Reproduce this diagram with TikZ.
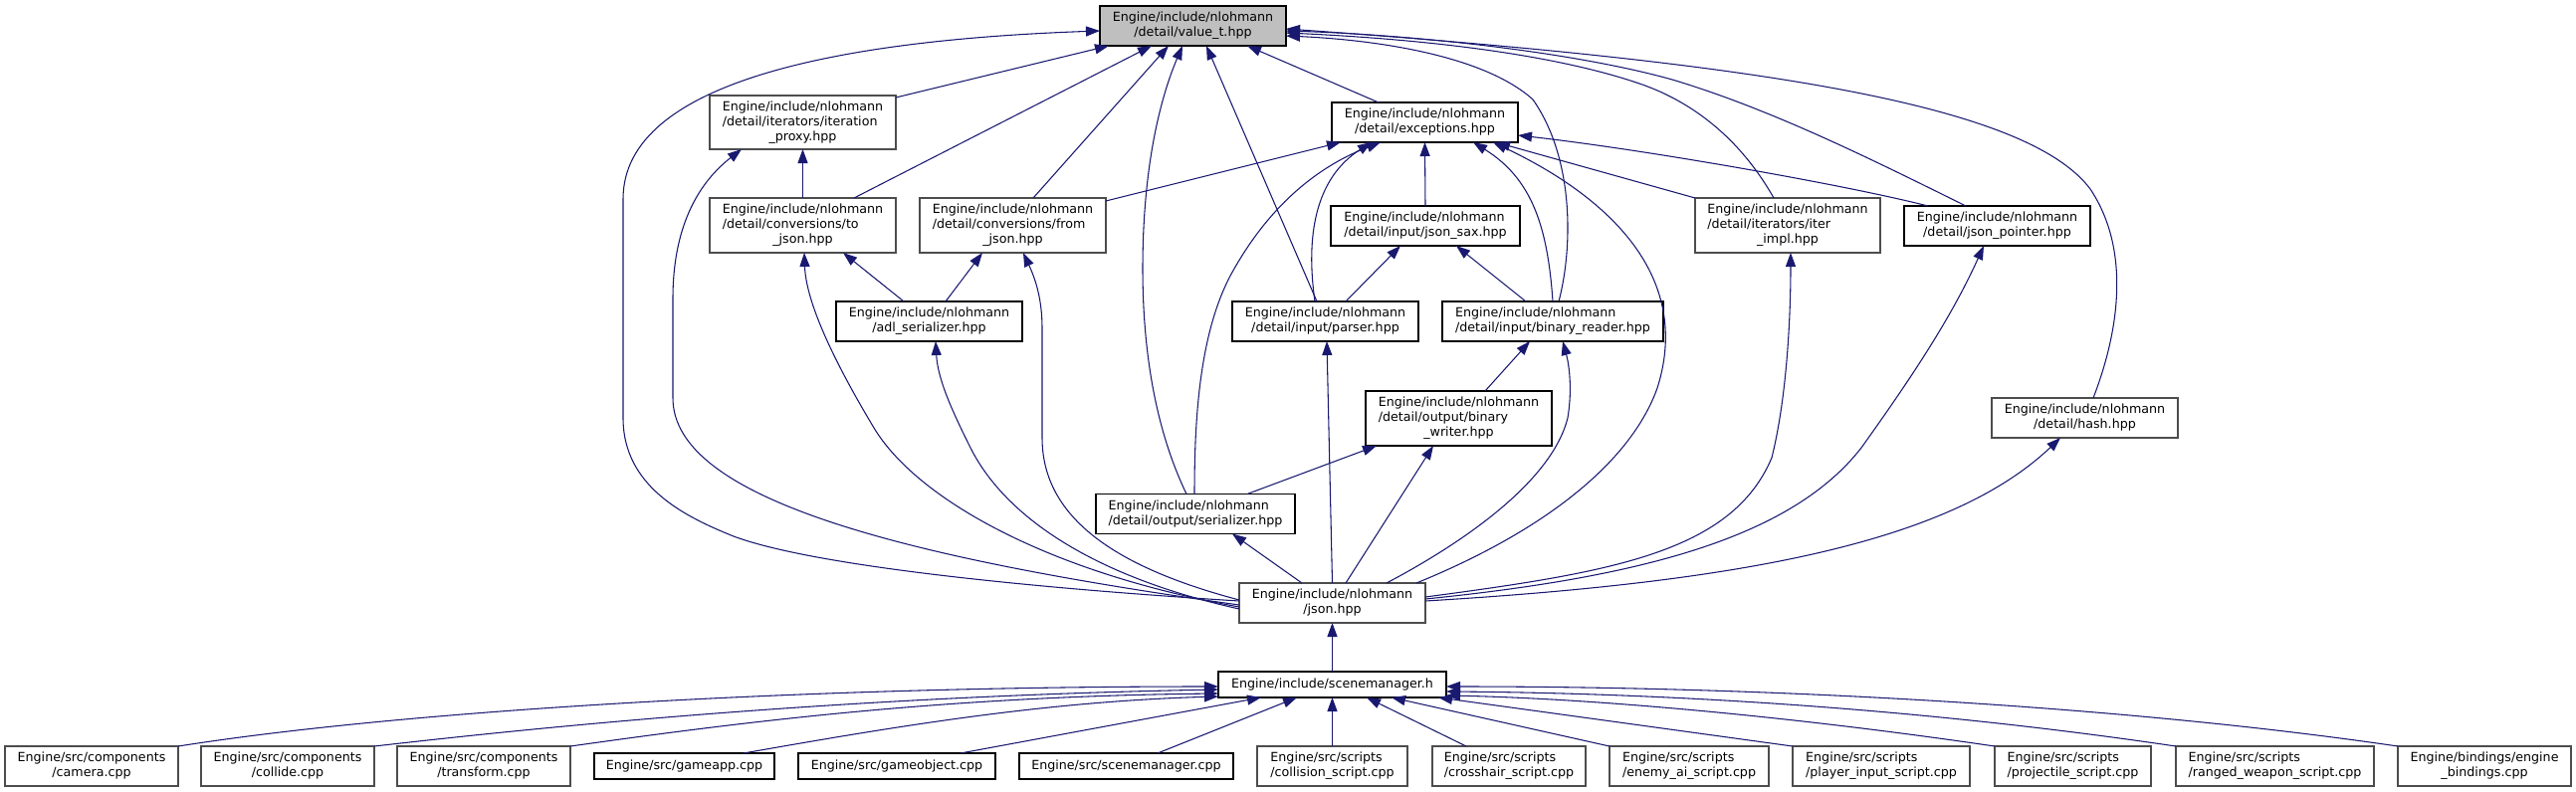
\documentclass[tikz,border=0pt]{standalone}
\usepackage{fontspec}
\setmainfont{DejaVu Sans}
\usetikzlibrary{arrows.meta,calc}
\definecolor{edgeblue}{HTML}{191970}
\definecolor{boxgray}{HTML}{4D4D4D}
\definecolor{rootgray}{HTML}{BFBFBF}
\newcommand{\ml}[2]{\begin{tabular}{@{}l@{}}#1\\\multicolumn{1}{@{}c@{}}{#2}\end{tabular}}
\tikzset{
  nb/.style 2 args={draw=black, line width=0.8pt, fill=white, minimum width=#1*0.75pt, minimum height=#2*0.75pt, inner sep=0pt, outer sep=0pt, font=\fontsize{9.5}{11.25}\selectfont},
  ng/.style 2 args={nb={#1}{#2}, draw=boxgray, line width=1pt},
  lnk/.style={draw=edgeblue, line width=0.8pt, -{Triangle[length=10.5pt,width=7.5pt]}}
}
\begin{document}
\begin{tikzpicture}[x=0.75pt,y=-0.75pt]
\useasboundingbox (0,0) rectangle (2588,796);
% nodes
\node[nb={187}{40}, fill=rootgray] (vt) at (1198.5,26) {\ml{Engine/include/nlohmann}{/detail/value\_t.hpp}};
\node[ng={187}{54}] (ip) at (806.5,123) {\ml{Engine/include/nlohmann\\/detail/iterators/iteration}{\_proxy.hpp}};
\node[ng={187}{55}] (tj) at (806.5,226.5) {\ml{Engine/include/nlohmann\\/detail/conversions/to}{\_json.hpp}};
\node[ng={187}{55}] (fj) at (1017.5,226.5) {\ml{Engine/include/nlohmann\\/detail/conversions/from}{\_json.hpp}};
\node[nb={187}{40}] (adl) at (933.5,323) {\ml{Engine/include/nlohmann}{/adl\_serializer.hpp}};
\node[nb={187}{40}] (exc) at (1431.5,123) {\ml{Engine/include/nlohmann}{/detail/exceptions.hpp}};
\node[nb={190}{40}] (sax) at (1432,227) {\ml{Engine/include/nlohmann}{/detail/input/json\_sax.hpp}};
\node[nb={187}{40}] (par) at (1331.5,323) {\ml{Engine/include/nlohmann}{/detail/input/parser.hpp}};
\node[nb={222}{40}] (br) at (1560,323) {\ml{Engine/include/nlohmann}{/detail/input/binary\_reader.hpp}};
\node[ng={186}{55}] (ii) at (1796,226.5) {\ml{Engine/include/nlohmann\\/detail/iterators/iter}{\_impl.hpp}};
\node[nb={187}{40}] (jp) at (2006.5,227) {\ml{Engine/include/nlohmann}{/detail/json\_pointer.hpp}};
\node[nb={187}{55}] (bw) at (1465.5,420.5) {\ml{Engine/include/nlohmann\\/detail/output/binary}{\_writer.hpp}};
\node[nb={200}{40}] (ser) at (1201,516.5) {\ml{Engine/include/nlohmann}{/detail/output/serializer.hpp}};
\node[ng={187}{40}] (hash) at (2094.5,420) {\ml{Engine/include/nlohmann}{/detail/hash.hpp}};
\node[ng={187}{40}] (json) at (1338.5,606) {\ml{Engine/include/nlohmann}{/json.hpp}};
\node[nb={229}{26}] (sm) at (1338.5,688) {Engine/include/scenemanager.h};
\node[ng={174}{40}] (cam) at (92,770) {\ml{Engine/src/components}{/camera.cpp}};
\node[ng={174}{40}] (col) at (289,770) {\ml{Engine/src/components}{/collide.cpp}};
\node[ng={174}{40}] (tr) at (486,770) {\ml{Engine/src/components}{/transform.cpp}};
\node[nb={181}{26}] (ga) at (687.5,770) {Engine/src/gameapp.cpp};
\node[nb={198}{26}] (go) at (901,770) {Engine/src/gameobject.cpp};
\node[nb={215}{26}] (smc) at (1131.5,770) {Engine/src/scenemanager.cpp};
\node[ng={151}{40}] (cs) at (1338.5,770) {\ml{Engine/src/scripts}{/collision\_script.cpp}};
\node[ng={154}{40}] (ch) at (1516,770) {\ml{Engine/src/scripts}{/crosshair\_script.cpp}};
\node[ng={160}{40}] (ea) at (1697,770) {\ml{Engine/src/scripts}{/enemy\_ai\_script.cpp}};
\node[ng={178}{40}] (pi) at (1890,770) {\ml{Engine/src/scripts}{/player\_input\_script.cpp}};
\node[ng={157}{40}] (pr) at (2082.5,770) {\ml{Engine/src/scripts}{/projectile\_script.cpp}};
\node[ng={199}{40}] (rw) at (2285.5,770) {\ml{Engine/src/scripts}{/ranged\_weapon\_script.cpp}};
\node[ng={174}{40}] (eb) at (2496,770) {\ml{Engine/bindings/engine}{\_bindings.cpp}};
% json.hpp includes
\draw[lnk] ($(json)+(-93.5,-2)$) .. controls (1050,592) and (820,570) .. (737,539) .. controls (690,520) and (626,490) .. (626,420) -- (626,200) .. controls (626,80) and (850,40) .. ($(vt)+(-93.5,5)$);
\draw[lnk] ($(json)+(-93.5,2)$) .. controls (900,560) and (676,500) .. (676,400) -- (676,300) .. controls (676,230) and (700,185) .. ($(ip)+(-61.5,27)$);
\draw[lnk] ($(json)+(-93.5,4)$) .. controls (1050,575) and (920,500) .. (878,430) .. controls (848,380) and (810,310) .. ($(tj)+(1.5,27.5)$);
\draw[lnk] ($(json)+(-93.5,6)$) .. controls (1100,580) and (1010,520) .. (975,450) .. controls (955,410) and (942,380) .. ($(adl)+(6.5,20)$);
\draw[lnk] ($(json)+(-93.5,-3)$) .. controls (1120,570) and (1047,520) .. (1047,440) -- (1047,330) .. controls (1047,300) and (1040,280) .. ($(fj)+(10.5,27.5)$);
\draw[lnk] (json.north) -- ($(par.south)+(1.5,0)$);
\draw[lnk] ($(json)+(-30.5,-20)$) -- ($(ser)+(37,20)$);
\draw[lnk] ($(json)+(13.5,-20)$) -- ($(bw)+(-25.5,27.5)$);
\draw[lnk] ($(json)+(54.5,-20)$) .. controls (1480,540) and (1560,480) .. (1575,420) .. controls (1580,390) and (1576,365) .. ($(br)+(10,20)$);
\draw[lnk] ($(json)+(84.5,-20)$) .. controls (1560,530) and (1640,460) .. (1665,390) .. controls (1700,280) and (1620,200) .. ($(exc)+(68.5,20)$);
\draw[lnk] ($(json)+(93.5,-6)$) .. controls (1620,575) and (1740,555) .. (1780,460) .. controls (1795,400) and (1799,320) .. ($(ii)+(3,27.5)$);
\draw[lnk] ($(json)+(93.5,-4)$) .. controls (1650,580) and (1800,540) .. (1870,450) .. controls (1920,380) and (1960,320) .. ($(jp)+(-13.5,20)$);
\draw[lnk] ($(json)+(93.5,-2)$) .. controls (1750,585) and (1960,545) .. ($(hash)+(-24.5,20)$);
\draw[lnk] (sm.north) -- (json.south);
% value_t
\draw[lnk] ($(ip)+(93.5,-25)$) -- ($(vt)+(-84.5,20)$);
\draw[lnk] ($(tj)+(51.5,-27.5)$) -- ($(vt)+(-41.5,20)$);
\draw[lnk] ($(fj)+(20.5,-27.5)$) -- ($(vt)+(-24.5,20)$);
\draw[lnk] ($(ser)+(-9,-20)$) .. controls (1160,430) and (1148,350) .. (1148,270) .. controls (1148,170) and (1165,100) .. ($(vt)+(-10.5,20)$);
\draw[lnk] ($(par)+(-8.5,-20)$) -- ($(vt)+(13.5,20)$);
\draw[lnk] ($(exc)+(-46.5,-20)$) -- ($(vt)+(54.5,20)$);
\draw[lnk] ($(br)+(6,-20)$) .. controls (1580,250) and (1582,160) .. (1540,100) .. controls (1490,55) and (1380,40) .. ($(vt)+(93.5,10)$);
\draw[lnk] ($(ii)+(-14,-27.5)$) .. controls (1760,160) and (1720,110) .. (1650,85) .. controls (1550,50) and (1400,38) .. ($(vt)+(93.5,7)$);
\draw[lnk] ($(jp)+(-31.5,-20)$) .. controls (1880,160) and (1780,110) .. (1680,80) .. controls (1580,52) and (1420,35) .. ($(vt)+(93.5,5)$);
\draw[lnk] ($(hash)+(8.5,-20)$) .. controls (2130,330) and (2140,250) .. (2100,190) .. controls (2040,110) and (1800,65) .. ($(vt)+(93.5,3)$);
% exceptions
\draw[lnk] ($(fj)+(93.5,-24.5)$) -- ($(exc)+(-84.5,20)$);
\draw[lnk] ($(par)+(-10.5,-20)$) .. controls (1312,240) and (1320,180) .. ($(exc)+(-53.5,20)$);
\draw[lnk] ($(ser)+(-1,-20)$) .. controls (1200,420) and (1205,330) .. (1240,270) .. controls (1280,200) and (1330,165) .. ($(exc)+(-44.5,20)$);
\draw[lnk] (sax.north) -- (exc.south);
\draw[lnk] ($(br)+(0,-20)$) .. controls (1555,230) and (1540,180) .. ($(exc)+(48.5,20)$);
\draw[lnk] ($(ii)+(-93,-27.5)$) -- ($(exc)+(71.5,20)$);
\draw[lnk] ($(jp)+(-69.5,-20)$) .. controls (1850,185) and (1650,150) .. ($(exc)+(93.5,13)$);
% json_sax
\draw[lnk] ($(par)+(20.5,-20)$) -- ($(sax)+(-25,20)$);
\draw[lnk] ($(br)+(-27,-20)$) -- ($(sax)+(31,20)$);
% others
\draw[lnk] (tj.north) -- (ip.south);
\draw[lnk] ($(adl)+(-25.5,-20)$) -- ($(tj)+(40.5,27.5)$);
\draw[lnk] ($(adl)+(16.5,-20)$) -- ($(fj)+(-30.5,27.5)$);
\draw[lnk] ($(bw)+(26.5,-27.5)$) -- ($(br)+(-23,20)$);
\draw[lnk] ($(ser)+(52,-20)$) -- ($(bw)+(-82.5,27.5)$);
% scenemanager.h
\draw[lnk] ($(cam)+(87,-20)$) .. controls (400,715) and (800,690) .. ($(sm)+(-114.5,2)$);
\draw[lnk] ($(col)+(87,-20)$) .. controls (550,730) and (850,700) .. ($(sm)+(-114.5,5)$);
\draw[lnk] ($(tr)+(87,-20)$) .. controls (750,725) and (950,700) .. ($(sm)+(-114.5,9)$);
\draw[lnk] ($(ga)+(59.5,-13)$) .. controls (900,730) and (1050,705) .. ($(sm)+(-114.5,12)$);
\draw[lnk] ($(go)+(64,-13)$) -- ($(sm)+(-71.5,13)$);
\draw[lnk] ($(smc)+(31.5,-13)$) -- ($(sm)+(-35.5,13)$);
\draw[lnk] (cs.north) -- (sm.south);
\draw[lnk] ($(ch)+(-43,-20)$) -- ($(sm)+(34.5,13)$);
\draw[lnk] ($(ea)+(-80,-20)$) -- ($(sm)+(59.5,13)$);
\draw[lnk] ($(pi)+(-89,-20)$) -- ($(sm)+(106.5,13)$);
\draw[lnk] ($(pr)+(-78.5,-20)$) .. controls (1800,720) and (1600,702) .. ($(sm)+(114.5,11)$);
\draw[lnk] ($(rw)+(-99.5,-20)$) .. controls (1950,715) and (1700,697) .. ($(sm)+(114.5,7)$);
\draw[lnk] ($(eb)+(-87,-20)$) .. controls (2150,712) and (1800,690) .. ($(sm)+(114.5,2)$);
\end{tikzpicture}
\end{document}
